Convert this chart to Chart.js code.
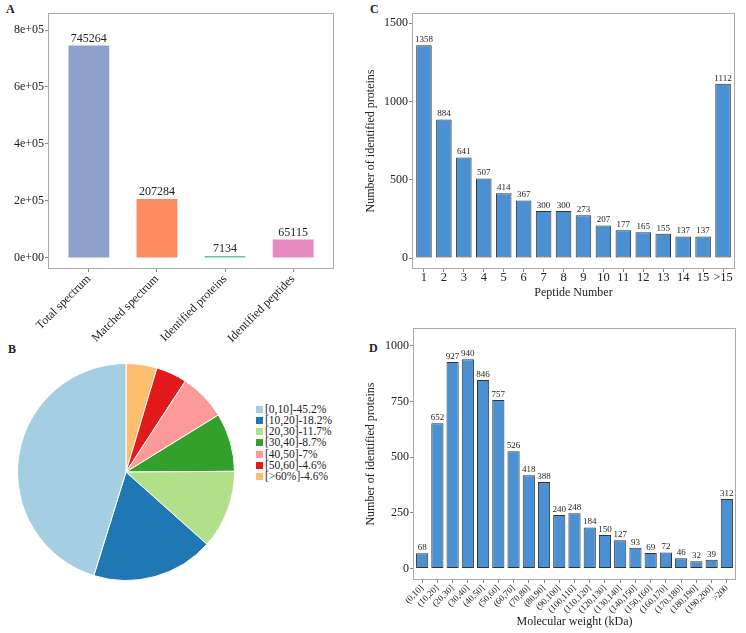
<!DOCTYPE html>
<html>
<head>
<meta charset="utf-8">
<script src="https://cdn.jsdelivr.net/npm/chart.js@4.4.0/dist/chart.umd.min.js"></script>
<style>
  body { margin: 0; background: #fff; width: 746px; height: 633px; position: relative; overflow: hidden;
         font-family: "Liberation Serif", "DejaVu Serif", serif; color: #222; }
  canvas { position: absolute; }
  .tag { position: absolute; font-weight: bold; font-size: 12px; line-height: 14px; }
  .leg { position: absolute; font-size: 11.5px; line-height: 12px; white-space: nowrap; }
  .sw { position: absolute; width: 7px; height: 7px; }
</style>
</head>
<body>
<div class="tag" style="left:6px;top:2px">A</div>
<div class="tag" style="left:370px;top:2px">C</div>
<div class="tag" style="left:8px;top:342px">B</div>
<div class="tag" style="left:369px;top:341px">D</div>

<canvas id="summaryChart" width="373" height="345" style="left:0;top:0"></canvas>
<canvas id="peptideChart" width="386" height="304" style="left:360px;top:0"></canvas>
<canvas id="coverageChart" width="218" height="218" style="left:17px;top:363px"></canvas>
<canvas id="weightChart" width="386" height="313" style="left:360px;top:320px"></canvas>
<div id="coverageLegend"></div>

<script>
// A - spectrum / identification summary
const summaryLabels = ['Total spectrum', 'Matched spectrum', 'Identified proteins', 'Identified peptides'];
const summaryValues = [745264, 207284, 7134, 65115];
const summaryColors = ['#8da0cb', '#fc8d62', '#66c2a5', '#e78ac3'];
const summaryTicks = [0, 200000, 400000, 600000, 800000];

// B - sequence coverage
const coverageLabels = ['[0,10]-45.2%', '[10,20]-18.2%', '[20,30]-11.7%', '[30,40]-8.7%', '[40,50]-7%', '[50,60]-4.6%', '[>60%]-4.6%'];
const coverageValues = [45.2, 18.2, 11.7, 8.7, 7, 4.6, 4.6];
const coverageColors = ['#a6cee3', '#1f78b4', '#b2df8a', '#33a02c', '#fb9a99', '#e31a1c', '#fdbf6f'];

// C - peptide number
const peptideLabels = ['1', '2', '3', '4', '5', '6', '7', '8', '9', '10', '11', '12', '13', '14', '15', '>15'];
const peptideCounts = [1358, 884, 641, 507, 414, 367, 300, 300, 273, 207, 177, 165, 155, 137, 137, 1112];
const peptideTicks = [0, 500, 1000, 1500];

// D - molecular weight
const weightLabels = ['(0,10]', '(10,20]', '(20,30]', '(30,40]', '(40,50]', '(50,60]', '(60,70]', '(70,80]', '(80,90]', '(90,100]',
  '(100,110]', '(110,120]', '(120,130]', '(130,140]', '(140,150]', '(150,160]', '(160,170]', '(170,180]', '(180,190]', '(190,200]', '>200'];
const weightCounts = [68, 652, 927, 940, 846, 757, 526, 418, 388, 240, 248, 184, 150, 127, 93, 69, 72, 46, 32, 39, 312];
const weightTicks = [0, 250, 500, 750, 1000];

const SERIF = '"Liberation Serif", "DejaVu Serif", serif';
const BAR_BLUE = '#4a90d2';

function sci(v) {
  if (v === 0) return '0e+00';
  const e = Math.floor(Math.log10(Math.abs(v)));
  const m = Math.round(v / Math.pow(10, e));
  return m + 'e+' + String(e).padStart(2, '0');
}

// grey box round the plot panel, like ggplot's panel.border
const panelFrame = {
  id: 'panelFrame',
  afterDraw(chart) {
    const a = chart.chartArea, ctx = chart.ctx;
    ctx.save();
    ctx.strokeStyle = '#a9a9a9';
    ctx.lineWidth = 1;
    ctx.strokeRect(Math.round(a.left) + 0.5, Math.round(a.top) + 0.5, Math.round(a.width) - 1, Math.round(a.height) - 1);
    ctx.restore();
  }
};

// value printed over each bar
const barValues = {
  id: 'barValues',
  afterDatasetsDraw(chart, args, opts) {
    const ctx = chart.ctx;
    const ds = chart.data.datasets[0];
    ctx.save();
    ctx.font = opts.size + 'px ' + SERIF;
    ctx.fillStyle = '#222';
    ctx.textAlign = 'center';
    ctx.textBaseline = 'bottom';
    chart.getDatasetMeta(0).data.forEach((bar, i) => {
      ctx.fillText(String(ds.data[i].y), bar.x, bar.y - 1);
    });
    ctx.restore();
  }
};

function barChart(id, labels, values, colors, o) {
  return new Chart(document.getElementById(id), {
    type: 'bar',
    data: {
      datasets: [{
        data: values.map((v, i) => ({ x: i + 1, y: v })),
        backgroundColor: colors,
        borderColor: o.border || 'rgba(0,0,0,0)',
        borderWidth: o.border ? 1 : 0,
        borderSkipped: false,
        barPercentage: o.barWidth,
        categoryPercentage: 1
      }]
    },
    options: {
      responsive: false,
      animation: false,
      layout: { padding: o.padding },
      plugins: {
        legend: { display: false },
        tooltip: { enabled: false },
        barValues: { size: o.valueSize }
      },
      scales: {
        x: {
          type: 'linear',
          offset: false,
          min: 0.4,
          max: labels.length + 0.6,
          afterBuildTicks(s) { s.ticks = labels.map((l, i) => ({ value: i + 1 })); },
          afterFit(s) { s.height = o.xHeight; },
          grid: { offset: false, drawOnChartArea: false, drawTicks: true, tickLength: 3, color: '#8a8a8a' },
          border: { display: false },
          ticks: {
            autoSkip: false,
            minRotation: o.rotation, maxRotation: o.rotation,
            padding: o.xPad,
            color: '#222',
            font: { family: SERIF, size: o.xTickSize },
            callback: v => labels[Math.round(v) - 1]
          },
          title: o.xTitle ? { display: true, text: o.xTitle, color: '#222', font: { family: SERIF, size: 12 } } : { display: false }
        },
        y: {
          min: o.yMin, max: o.yMax,
          afterBuildTicks(s) { s.ticks = o.yTicks.map(v => ({ value: v })); },
          afterFit(s) { s.width = o.yWidth; },
          grid: { drawOnChartArea: false, drawTicks: true, tickLength: 3, color: '#8a8a8a' },
          border: { display: false },
          ticks: {
            padding: 1,
            color: '#222',
            font: { family: SERIF, size: 12 },
            callback: o.yFormat || (v => String(v))
          },
          title: o.yTitle ? { display: true, text: o.yTitle, color: '#222', font: { family: SERIF, size: 12 } } : { display: false }
        }
      }
    },
    plugins: [panelFrame, barValues]
  });
}

barChart('summaryChart', summaryLabels, summaryValues, summaryColors, {
  padding: { top: 13, right: 39, left: 0, bottom: 0 },
  yWidth: 48, xHeight: 76, yMin: -38600, yMax: 859650, yTicks: summaryTicks, yFormat: sci,
  barWidth: 0.6, rotation: 45, xTickSize: 12, xPad: 0, valueSize: 12
});

barChart('peptideChart', peptideLabels, peptideCounts, BAR_BLUE, {
  padding: { top: 13, right: 11, left: 0, bottom: 0 },
  yWidth: 52, xHeight: 35, yMin: -70, yMax: 1564, yTicks: peptideTicks,
  barWidth: 0.78, rotation: 0, xTickSize: 12.5, xPad: -2, valueSize: 9, border: '#333',
  xTitle: 'Peptide Number', yTitle: 'Number of identified proteins'
});

barChart('weightChart', weightLabels, weightCounts, BAR_BLUE, {
  padding: { top: 1, right: 10, left: 0, bottom: 0 },
  yWidth: 53, xHeight: 53, yMin: -52, yMax: 1079, yTicks: weightTicks,
  barWidth: 0.8, rotation: 45, xTickSize: 9, xPad: 0, valueSize: 9, border: '#333',
  xTitle: 'Molecular weight (kDa)', yTitle: 'Number of identified proteins'
});

// B - pie drawn clockwise from the top, so the slices go in reverse order
new Chart(document.getElementById('coverageChart'), {
  type: 'pie',
  data: {
    labels: coverageLabels.slice().reverse(),
    datasets: [{
      data: coverageValues.slice().reverse(),
      backgroundColor: coverageColors.slice().reverse(),
      borderColor: '#fff',
      borderWidth: 1
    }]
  },
  options: {
    responsive: false,
    animation: false,
    layout: { padding: 0 },
    plugins: { legend: { display: false }, tooltip: { enabled: false } }
  }
});

const legendBox = document.getElementById('coverageLegend');
coverageLabels.forEach((label, i) => {
  const cy = 409.3 + i * 11.2;
  const sw = document.createElement('div');
  sw.className = 'sw';
  sw.style.left = '256px';
  sw.style.top = (cy - 3.5) + 'px';
  sw.style.background = coverageColors[i];
  legendBox.appendChild(sw);
  const t = document.createElement('div');
  t.className = 'leg';
  t.style.left = '265px';
  t.style.top = (cy - 6.5) + 'px';
  t.textContent = label;
  legendBox.appendChild(t);
});
</script>
</body>
</html>
